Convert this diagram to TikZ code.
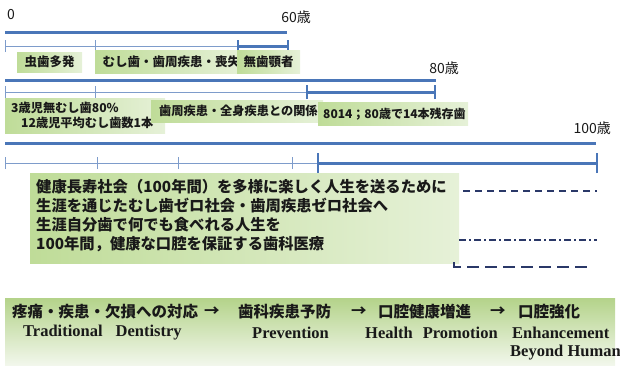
\documentclass[tikz,border=0pt]{standalone}
\usepackage{fontspec}
\setmainfont{Noto Sans CJK JP}
\newfontfamily\enserif{Liberation Serif}
\definecolor{lineblue}{HTML}{4A76B8}
\definecolor{thinblue}{HTML}{7E9CCB}
\definecolor{navy}{HTML}{2A3868}
\definecolor{gA}{HTML}{BFDC98}
\definecolor{gB}{HTML}{E6F1D8}
\definecolor{gTop}{HTML}{B4D38A}
\definecolor{gBot}{HTML}{F2F7EC}
\tikzset{
  thickline/.style={draw=lineblue, line width=3pt},
  thinline/.style={draw=thinblue, line width=0.9pt},
  tickmark/.style={draw=thinblue, line width=1pt},
  bigtick/.style={draw=lineblue, line width=1.6pt},
  gbox/.style={left color=gA, right color=gB, draw=none, anchor=north west, inner sep=0pt, font=\bfseries\fontsize{12.5}{13}\selectfont, text=black!90},
  agelbl/.style={font=\fontsize{14}{14}\selectfont, text=black!90, inner sep=0pt},
  bigtxt/.style={font=\bfseries\fontsize{15.3}{19}\selectfont, text=black!90},
  btmjp/.style={font=\bfseries\fontsize{15.5}{16}\selectfont, text=black!90, inner sep=0pt, anchor=west},
  btmen/.style={font=\enserif\bfseries\fontsize{16.5}{17}\selectfont, text=black!90, inner sep=0pt, anchor=west},
  futdash/.style={draw=navy, line width=1.6pt},
}
\begin{document}
\begin{tikzpicture}[x=1pt,y=-1pt]
\useasboundingbox (0,0) rectangle (620,365);
% ages
\node[agelbl, anchor=west] (a0) at (7,15) {0};
\node[agelbl, anchor=east] (a60) at (311,17) {60歳};
\node[agelbl, anchor=east] (a80) at (459,68) {80歳};
\node[agelbl, anchor=east] (a100) at (611,128) {100歳};
% row 1
\coordinate (r1s) at (5,32); \coordinate (r1e) at (287,32);
\draw[thickline] (r1s) -- (r1e);
\coordinate (t1a) at (5,46); \coordinate (t1b) at (95,46); \coordinate (t1c) at (238,46); \coordinate (t1d) at (288,46);
\draw[thinline] (t1a) -- (t1d);
\foreach \p in {t1a,t1b} \draw[tickmark] ([yshift=-6pt]\p) -- ([yshift=6pt]\p);
\draw[thickline] (t1c) -- (t1d);
\foreach \p in {t1c,t1d} \draw[bigtick] ([yshift=-6pt]\p) -- ([yshift=6pt]\p);
\node[gbox, minimum width=65pt, minimum height=20pt] (b1) at (17,52) {虫歯多発};
\node[gbox, minimum width=148pt, minimum height=23pt, text width=143pt, align=left] (b2) at (95,50) {\hspace*{5pt}むし歯・歯周疾患・喪失};
\node[gbox, minimum width=63pt, minimum height=23pt] (b3) at (237,50) {無歯顎者};
% row 2
\coordinate (r2s) at (5,80); \coordinate (r2e) at (436,80);
\draw[thickline] (r2s) -- (r2e);
\coordinate (t2a) at (5,92); \coordinate (t2b) at (95,92); \coordinate (t2c) at (307,92); \coordinate (t2d) at (435,92);
\draw[thinline] (t2a) -- (t2c);
\foreach \p in {t2a,t2b} \draw[tickmark] ([yshift=-6pt]\p) -- ([yshift=6pt]\p);
\draw[thickline] (t2c) -- (t2d);
\foreach \p in {t2c,t2d} \draw[bigtick] ([yshift=-7pt]\p) -- ([yshift=7pt]\p);
\node[gbox, minimum width=160pt, minimum height=35pt, text width=158pt, align=left, font=\bfseries\fontsize{12.2}{15}\selectfont] (b4) at (5,98) {\hspace*{5pt}3歳児無むし歯80\%\\\hspace*{15pt}12歳児平均むし歯数1本};
\node[gbox, minimum width=172pt, minimum height=22pt, text width=170pt, align=left, font=\bfseries\fontsize{12.2}{13}\selectfont] (b5) at (151,100) {\hspace*{7pt}歯周疾患・全身疾患との関係};
\node[gbox, minimum width=150pt, minimum height=23pt, text width=148pt, align=left, font=\bfseries\fontsize{12}{13}\selectfont] (b6) at (318,102) {\hspace*{4pt}8014；80歳で14本残存歯};
% row 3
\coordinate (r3s) at (5,143); \coordinate (r3e) at (596,143);
\draw[thickline] (r3s) -- (r3e);
\coordinate (t3a) at (5,163); \coordinate (t3b) at (97,163); \coordinate (t3c) at (178,163); \coordinate (t3d) at (292,163); \coordinate (t3e) at (318,163); \coordinate (t3f) at (597,163);
\draw[thinline] (t3a) -- (t3e);
\foreach \p in {t3a,t3b,t3c,t3d} \draw[tickmark] ([yshift=-6pt]\p) -- ([yshift=6pt]\p);
\draw[thickline] (t3e) -- (t3f);
\foreach \p in {t3e,t3f} \draw[bigtick] ([yshift=-10pt]\p) -- ([yshift=10pt]\p);
% big box
\node[anchor=north west, inner sep=0pt, minimum width=429pt, minimum height=90pt, shading angle=-60, left color=gA, right color=gB, draw=none] (big) at (30,173) {};
\node[bigtxt, anchor=north west, inner sep=0pt, align=left] (bigtext) at (36,179) {健康長寿社会（100年間）を多様に楽しく人生を送るために\\生涯を通じたむし歯ゼロ社会・歯周疾患ゼロ社会へ\\生涯自分歯で何でも食べれる人生を\\100年間，健康な口腔を保証する歯科医療};
% future lines
\coordinate (f1s) at (463,191); \coordinate (f1e) at (597,191);
\draw[futdash, dash pattern=on 7pt off 5pt] (f1s) -- (f1e);
\coordinate (f2s) at (459,240); \coordinate (f2e) at (597,240);
\draw[futdash, dash pattern=on 7pt off 3pt on 2pt off 3pt] (f2s) -- (f2e);
\coordinate (f3a) at (454,262); \coordinate (f3s) at (454,267); \coordinate (f3e) at (588,267);
\draw[futdash, dash pattern=on 12pt off 6pt] (f3a) -- (f3s) -- (f3e);
% bottom band
\node[anchor=north west, inner sep=0pt, minimum width=610pt, minimum height=67pt, top color=gTop, bottom color=gBot, draw=none] (band) at (5,298) {};
\node[btmjp] (j1) at (12,312) {疼痛・疾患・欠損への対応};
\node[btmjp] (ar1) at (204,312) {→};
\node[btmjp] (j2) at (238,312) {歯科疾患予防};
\node[btmjp] (ar2) at (351,312) {→};
\node[btmjp] (j3) at (378,312) {口腔健康増進};
\node[btmjp] (ar3) at (490,312) {→};
\node[btmjp] (j4) at (518,312) {口腔強化};
\node[btmen] (e1) at (23,333) {Traditional\hspace{13pt}Dentistry};
\node[btmen] (e2) at (252,333) {Prevention};
\node[btmen] (e3) at (365,333) {Health\hspace{10pt}Promotion};
\node[btmen] (e4) at (512,333) {Enhancement};
\node[btmen] (e5) at (510,353) {Beyond Human};
\end{tikzpicture}
\end{document}
